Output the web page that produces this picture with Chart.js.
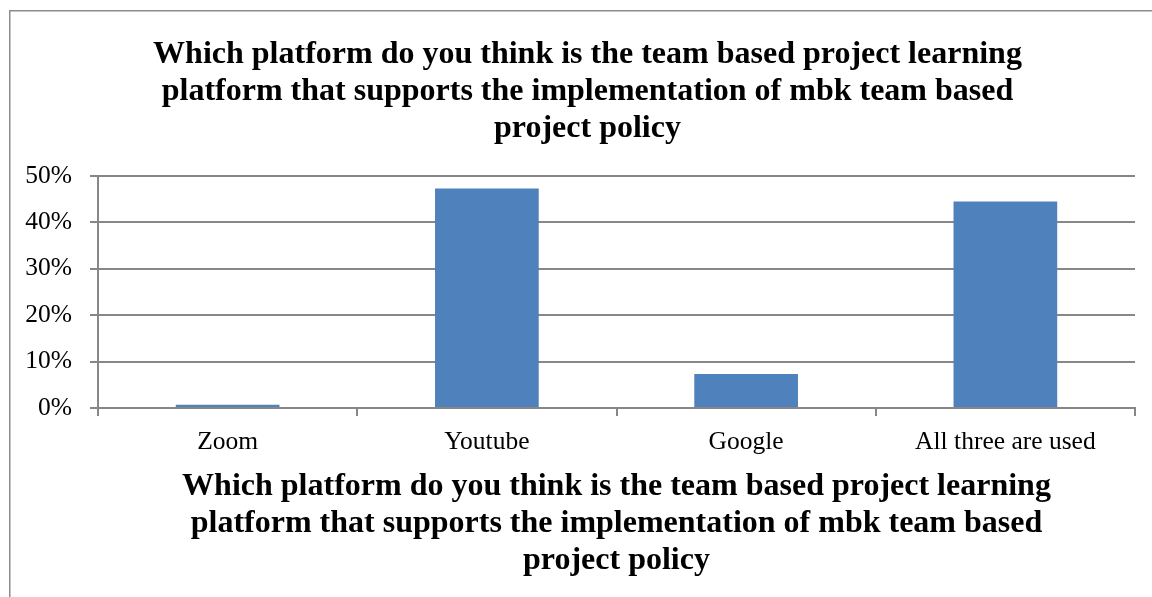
<!DOCTYPE html>
<html lang="en">
<head>
    <meta charset="UTF-8" />
    <title>Platform survey</title>
    <script src="https://cdn.jsdelivr.net/npm/chart.js"></script>
    <style>
        * { margin: 0; padding: 0; box-sizing: border-box; }
        body { background: #fff; width: 1152px; height: 597px; overflow: hidden; }
        #wrap { position: relative; width: 1152px; height: 597px; }
    </style>
</head>
<body>
    <div id="wrap">
        <canvas id="chart" width="1152" height="597"></canvas>
    </div>

    <script>
        // data
        const categories = ['Zoom', 'Youtube', 'Google', 'All three are used'];
        const shares = [0.7, 47.3, 7.3, 44.5];
        const titleLines = [
            'Which platform do you think is the team based project learning',
            'platform that supports the implementation of mbk team based',
            'project policy'
        ];

        const serif = "'Liberation Serif', 'Times New Roman', serif";
        const gridGray = '#878787';

        // outer frame of the chart box, and the title is centred on the box, not on the canvas
        const frame = {
            id: 'frame',
            afterLayout(chart) {
                chart.titleBlock.left = 40;
            },
            beforeDraw(chart) {
                const c = chart.ctx;
                c.save();
                c.fillStyle = '#fff';
                c.fillRect(0, 0, chart.width, chart.height);
                c.strokeStyle = '#8c8c8c';
                c.lineWidth = 1.5;
                c.strokeRect(9.75, 10.75, 1300, 800);
                c.restore();
            }
        };

        new Chart(document.getElementById('chart'), {
            type: 'bar',
            data: {
                labels: categories,
                datasets: [{
                    data: shares,
                    backgroundColor: '#4F81BD',
                    borderWidth: 0,
                    barPercentage: 0.4,
                    categoryPercentage: 1.0
                }]
            },
            options: {
                responsive: false,
                animation: false,
                layout: { padding: { left: 0, right: 17, top: 0, bottom: 0 } },
                plugins: {
                    legend: { display: false },
                    tooltip: { enabled: false },
                    title: {
                        display: true,
                        text: titleLines,
                        color: '#000',
                        font: { family: serif, size: 32, weight: 'bold', lineHeight: 1.16 },
                        padding: { top: 36, bottom: 28.6 }
                    }
                },
                scales: {
                    x: {
                        grid: {
                            offset: true,
                            drawOnChartArea: false,
                            drawTicks: true,
                            tickLength: 8,
                            color: gridGray,
                            lineWidth: 2
                        },
                        border: { color: gridGray, width: 2 },
                        ticks: {
                            color: '#000',
                            font: { family: serif, size: 25.5 },
                            padding: 11,
                            maxRotation: 0,
                            autoSkip: false
                        },
                        title: {
                            display: true,
                            text: titleLines,
                            color: '#000',
                            font: { family: serif, size: 32, weight: 'bold', lineHeight: 1.16 },
                            padding: { top: 4, bottom: 17.4 }
                        },
                        afterFit(scale) { scale.height = 189; }
                    },
                    y: {
                        min: 0,
                        max: 50,
                        grid: {
                            color: gridGray,
                            lineWidth: 2,
                            tickLength: 8
                        },
                        border: { color: gridGray, width: 2 },
                        ticks: {
                            stepSize: 10,
                            color: '#000',
                            font: { family: serif, size: 25.5 },
                            padding: 18,
                            callback: v => v + '%'
                        },
                        afterFit(scale) { scale.width = 98; }
                    }
                }
            },
            plugins: [frame]
        });
    </script>
</body>
</html>
